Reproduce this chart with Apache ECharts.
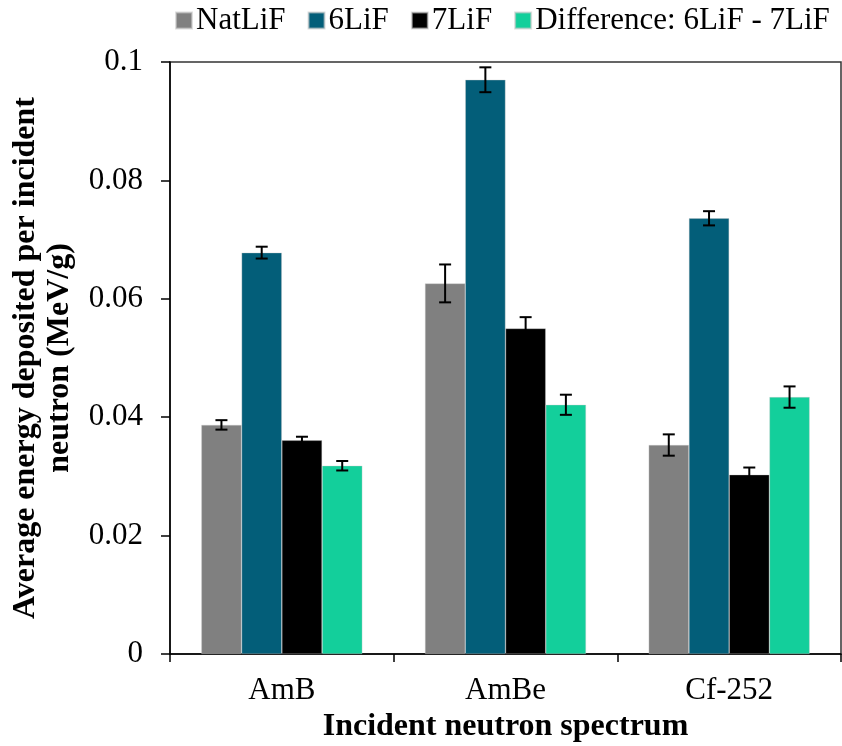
<!DOCTYPE html>
<html>
<head>
<meta charset="utf-8">
<script src="https://cdn.jsdelivr.net/npm/echarts@6/dist/echarts.min.js"></script>
<style>html,body{margin:0;padding:0;background:#fff;}#c{width:842px;height:746px;}</style>
</head>
<body>
<div id="c"></div>
<script>
var categories = ['AmB', 'AmBe', 'Cf-252'];
var seriesNames = ['NatLiF', '6LiF', '7LiF', 'Difference: 6LiF - 7LiF'];
var natLiF = [0.0387, 0.0626, 0.0353];
var natLiFErr = [0.0008, 0.0032, 0.0018];
var li6 = [0.0678, 0.0970, 0.0736];
var li6Err = [0.0010, 0.0021, 0.0012];
var li7 = [0.0361, 0.0550, 0.0303];
var li7Err = [0.0006, 0.0019, 0.0012];
var diff = [0.0318, 0.0421, 0.0434];
var diffErr = [0.0008, 0.0017, 0.0018];
var yTicks = [0, 0.02, 0.04, 0.06, 0.08, 0.1];

var colors = ['#808080', '#035e79', '#000000', '#13cf9b'];
var values = [natLiF, li6, li7, diff];
var errors = [natLiFErr, li6Err, li7Err, diffErr];
var gapRatio = 0.28;
var font = '"Liberation Serif", "Times New Roman", serif';

var series = [];
values.forEach(function (vals, i) {
  series.push({
    name: seriesNames[i], type: 'bar', data: vals,
    barGap: '0%', barCategoryGap: (gapRatio * 100) + '%',
    itemStyle: { color: colors[i], borderColor: 'rgba(200,200,200,0.6)', borderWidth: 0.6 },
    emphasis: { disabled: true }
  });
});
values.forEach(function (vals, i) {
  var data = vals.map(function (v, k) { return [k, v, errors[i][k]]; });
  series.push({
    type: 'custom', name: seriesNames[i] + ' err', data: data, z: 10,
    silent: true,
    renderItem: function (params, api) {
      var k = api.value(0), v = api.value(1), e = api.value(2);
      var cw = api.size([1, 0])[0];
      var bw = cw * (1 - gapRatio) / 4;
      var center = api.coord([k, v]);
      var x = center[0] + (i - 1.5) * bw;
      var top = api.coord([k, v + e])[1];
      var bot = api.coord([k, v - e])[1];
      var cap = 6;
      var st = { stroke: '#000', lineWidth: 2 };
      return { type: 'group', children: [
        { type: 'line', shape: { x1: x, y1: top, x2: x, y2: bot }, style: st },
        { type: 'line', shape: { x1: x - cap, y1: top, x2: x + cap, y2: top }, style: st },
        { type: 'line', shape: { x1: x - cap, y1: bot, x2: x + cap, y2: bot }, style: st }
      ]};
    }
  });
});

var chart = echarts.init(document.getElementById('c'));
chart.setOption({
  backgroundColor: '#fff',
  animation: false,
  textStyle: { fontFamily: font },
  legend: {
    data: seriesNames, top: 0, left: 170,
    itemWidth: 16, itemHeight: 16, itemGap: 22, icon: 'rect',
    textStyle: { fontFamily: font, fontSize: 31, color: '#000', padding: [0, 0, 0, -1] }
  },
  grid: { left: 170, right: 1, top: 62, bottom: 92, show: true, borderColor: '#333', borderWidth: 1.5,
    outerBoundsMode: 'none', containLabel: false },
  xAxis: {
    type: 'category', data: categories,
    name: 'Incident neutron spectrum', nameLocation: 'middle', nameGap: 43,
    nameTextStyle: { fontFamily: font, fontSize: 32, fontWeight: 'bold', color: '#000' },
    axisLine: { lineStyle: { color: '#000', width: 1.5 } },
    axisTick: { show: true, length: 8, lineStyle: { color: '#000', width: 1.5 } },
    axisLabel: { fontFamily: font, fontSize: 31, color: '#000', margin: 21 },
    splitLine: { show: false }
  },
  yAxis: {
    type: 'value', min: 0, max: 0.1, interval: 0.02,
    name: 'Average energy deposited per incident\nneutron (MeV/g)',
    nameLocation: 'middle', nameGap: 93, nameRotate: 90,
    nameTextStyle: { fontFamily: font, fontSize: 32, fontWeight: 'bold', color: '#000', lineHeight: 34 },
    axisLine: { show: true, lineStyle: { color: '#000', width: 1.5 } },
    axisTick: { show: true, length: 9, lineStyle: { color: '#000', width: 1.5 } },
    axisLabel: { fontFamily: font, fontSize: 31, color: '#000', margin: 27,
      formatter: function (v) { for (var t = 0; t < yTicks.length; t++) { if (Math.abs(yTicks[t] - v) < 1e-9) return String(yTicks[t]); } return ''; } },
    splitLine: { show: false }
  },
  series: series
});
</script>
</body>
</html>
